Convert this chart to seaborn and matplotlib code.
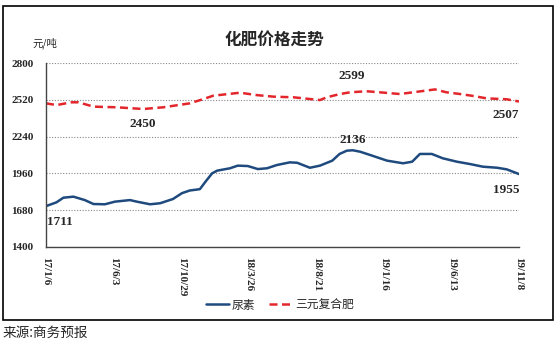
import matplotlib
matplotlib.use("Agg")
import matplotlib.pyplot as plt
from matplotlib.patches import Rectangle
import seaborn as sns
import pandas as pd

sns.set_style("white")
plt.rcParams["font.family"] = ["Noto Sans CJK SC", "DejaVu Sans"]

# Weekly price series, x values given as day offsets from 2017-01-06
start_date = "2017-01-06"

urea_days = [0, 23, 38, 60, 85, 104, 129, 151, 184, 199, 228, 250, 278, 298,
             315, 337, 350, 364, 375, 403, 420, 442, 464, 484, 506, 534, 550,
             578, 600, 627, 643, 659, 672, 688, 710, 747, 782, 802, 819, 845,
             869, 900, 929, 957, 988, 1009, 1036]
urea_price = [1711, 1740, 1775, 1783, 1757, 1727, 1725, 1745, 1757, 1745, 1725,
              1733, 1765, 1810, 1830, 1840, 1900, 1961, 1981, 1999, 2019, 2016,
              1993, 1999, 2024, 2044, 2041, 2003, 2019, 2057, 2108, 2133, 2136,
              2125, 2100, 2057, 2037, 2049, 2108, 2108, 2075, 2049, 2031, 2011,
              2003, 1991, 1955]

npk_days = [0, 23, 56, 71, 104, 155, 213, 257, 315, 345, 366, 425, 461, 498,
            542, 600, 615, 644, 666, 702, 731, 775, 804, 852, 877, 907, 936,
            965, 1009, 1036]
npk_price = [2493, 2480, 2501, 2501, 2468, 2463, 2450, 2463, 2493, 2526, 2551,
             2574, 2556, 2544, 2539, 2518, 2539, 2564, 2577, 2585, 2577, 2564,
             2577, 2599, 2577, 2564, 2549, 2531, 2524, 2507]

tick_labels = ["17/1/6", "17/6/3", "17/10/29", "18/3/26", "18/8/21",
               "19/1/16", "19/6/13", "19/11/8"]
tick_step_days = 148
y_ticks = [1400, 1680, 1960, 2240, 2520, 2800]

series_names = ["尿素", "三元复合肥"]
colors = ["#1F4A7E", "#E3262B"]

base = pd.Timestamp(start_date)
df_urea = pd.DataFrame({"date": base + pd.to_timedelta(urea_days, unit="D"),
                        "price": urea_price})
df_npk = pd.DataFrame({"date": base + pd.to_timedelta(npk_days, unit="D"),
                       "price": npk_price})

W, H = 557, 344
fig = plt.figure(figsize=(W / 100, H / 100), dpi=100)
ax = fig.add_axes([46 / W, 1 - 247 / H, 473 / W, 184 / H])

sns.lineplot(data=df_urea, x="date", y="price", ax=ax, color=colors[0],
             linewidth=1.8, label=series_names[0], legend=False)
sns.lineplot(data=df_npk, x="date", y="price", ax=ax, color=colors[1],
             linewidth=1.8, label=series_names[1], legend=False)
ax.lines[1].set_dashes([3.2, 1.8])

ax.set_xlim(base, base + pd.Timedelta(days=tick_step_days * (len(tick_labels) - 1)))
ax.set_ylim(y_ticks[0], y_ticks[-1])
ax.set_xlabel("")
ax.set_ylabel("")

tick_dates = [base + pd.Timedelta(days=tick_step_days * i) for i in range(len(tick_labels))]
ax.set_xticks(tick_dates)
ax.set_xticklabels(tick_labels, rotation=-90, ha="center", va="top",
                   family="Liberation Serif", fontweight="bold", fontsize=8)
ax.set_yticks(y_ticks)
ax.set_yticklabels([str(v) for v in y_ticks], family="Liberation Serif",
                   fontweight="bold", fontsize=8)
ax.tick_params(axis="both", direction="out", length=4, width=1, color="#444444")
ax.tick_params(axis="y", pad=5)
ax.tick_params(axis="x", pad=3)

for s in ["top", "right"]:
    ax.spines[s].set_visible(False)
for s in ["left", "bottom"]:
    ax.spines[s].set_color("#444444")
    ax.spines[s].set_linewidth(1)

ax.yaxis.grid(True, linestyle=(0, (1, 1.5)), color="#888888", linewidth=0.8)
ax.xaxis.grid(False)
ax.set_axisbelow(True)

# Value labels on key points
lab_kw = dict(family="Liberation Serif", fontweight="bold", fontsize=9.5,
              ha="center", va="center", textcoords="offset points")
ax.annotate(str(urea_price[0]), (df_urea["date"].iloc[0], urea_price[0]),
            xytext=(10, -11.5), **lab_kw)
ax.annotate(str(urea_price[-1]), (df_urea["date"].iloc[-1], urea_price[-1]),
            xytext=(-9.5, -11.5), **lab_kw)
i_max_u = urea_price.index(max(urea_price))
ax.annotate(str(urea_price[i_max_u]), (df_urea["date"].iloc[i_max_u], urea_price[i_max_u]),
            xytext=(0, 7.5), **lab_kw)
i_min_n = npk_price.index(min(npk_price))
ax.annotate(str(npk_price[i_min_n]), (df_npk["date"].iloc[i_min_n], npk_price[i_min_n]),
            xytext=(0, -11), **lab_kw)
i_max_n = npk_price.index(max(npk_price))
ax.annotate(str(npk_price[i_max_n]), (df_npk["date"].iloc[i_max_n], npk_price[i_max_n]),
            xytext=(-60, 9.5), **lab_kw)
ax.annotate(str(npk_price[-1]), (df_npk["date"].iloc[-1], npk_price[-1]),
            xytext=(-9.5, -10), **lab_kw)

fig.text(274 / W, 1 - 40 / H, "化肥价格走势", ha="center", va="center",
         fontsize=12, fontweight="bold")
fig.text(32 / W, 1 - 43 / H, "元/吨", ha="left", va="center", fontsize=7.5)

handles = ax.lines[:2]
fig.legend(handles, series_names, loc="center", ncol=2, frameon=False,
           bbox_to_anchor=(280 / W, 1 - 305 / H), fontsize=8.5,
           handlelength=2.0, columnspacing=1.2, handletextpad=0.2)

fig.patches.append(Rectangle((3 / W, 1 - 320 / H), 550 / W, 314 / H,
                             transform=fig.transFigure, fill=False,
                             edgecolor="black", linewidth=1.2))
fig.text(3 / W, 1 - 333 / H, "来源:商务预报", ha="left", va="center", fontsize=9.8)

fig.savefig("out.png", dpi=100)
